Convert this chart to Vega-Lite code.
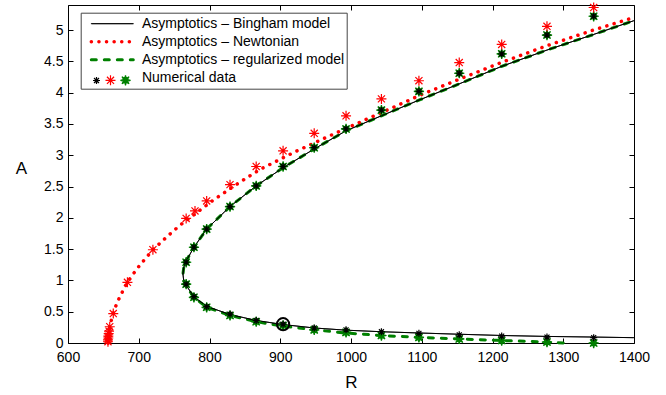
{
"$schema":"https://vega.github.io/schema/vega-lite/v6.json",
"width":566,"height":338,
"autosize":{"type":"none"},
"padding":{"left":68,"top":5,"right":32,"bottom":52},
"background":"white",
"config":{
 "view":{"stroke":null},
 "axis":{"domainColor":"#000","tickColor":"#000","labelColor":"#000","titleColor":"#000","labelFont":"Liberation Sans","titleFont":"Liberation Sans","labelFontSize":14,"titleFontSize":17,"titleFontWeight":"normal","grid":false,"domainWidth":1,"tickWidth":1,"labelFlush":false,"labelOverlap":false},
 "legend":{"labelFont":"Liberation Sans","labelFontSize":14,"labelColor":"#000"}
},
"datasets":{
 "lines":[
  {"series":"Asymptotics – regularized model","i":0,"R":1300,"A":0},
  {"series":"Asymptotics – regularized model","i":1,"R":1277,"A":0.015},
  {"series":"Asymptotics – regularized model","i":2,"R":1213,"A":0.04},
  {"series":"Asymptotics – regularized model","i":3,"R":1153,"A":0.065},
  {"series":"Asymptotics – regularized model","i":4,"R":1096,"A":0.09},
  {"series":"Asymptotics – regularized model","i":5,"R":1043,"A":0.12},
  {"series":"Asymptotics – regularized model","i":6,"R":993,"A":0.16},
  {"series":"Asymptotics – regularized model","i":7,"R":948,"A":0.21},
  {"series":"Asymptotics – regularized model","i":8,"R":904,"A":0.27},
  {"series":"Asymptotics – regularized model","i":9,"R":866,"A":0.34},
  {"series":"Asymptotics – regularized model","i":10,"R":829,"A":0.44},
  {"series":"Asymptotics – regularized model","i":11,"R":796,"A":0.57},
  {"series":"Asymptotics – regularized model","i":12,"R":778,"A":0.73},
  {"series":"Asymptotics – regularized model","i":13,"R":767,"A":0.91},
  {"series":"Asymptotics – regularized model","i":14,"R":763.5,"A":1.0},
  {"series":"Asymptotics – regularized model","i":15,"R":762.5,"A":1.1},
  {"series":"Asymptotics – regularized model","i":16,"R":763.5,"A":1.2},
  {"series":"Asymptotics – regularized model","i":17,"R":766,"A":1.29},
  {"series":"Asymptotics – regularized model","i":18,"R":778,"A":1.53},
  {"series":"Asymptotics – regularized model","i":19,"R":796,"A":1.82},
  {"series":"Asymptotics – regularized model","i":20,"R":829,"A":2.18},
  {"series":"Asymptotics – regularized model","i":21,"R":866,"A":2.51},
  {"series":"Asymptotics – regularized model","i":22,"R":904,"A":2.8},
  {"series":"Asymptotics – regularized model","i":23,"R":948,"A":3.1},
  {"series":"Asymptotics – regularized model","i":24,"R":993,"A":3.39},
  {"series":"Asymptotics – regularized model","i":25,"R":1043,"A":3.63},
  {"series":"Asymptotics – regularized model","i":26,"R":1096,"A":3.88},
  {"series":"Asymptotics – regularized model","i":27,"R":1153,"A":4.14},
  {"series":"Asymptotics – regularized model","i":28,"R":1213,"A":4.42},
  {"series":"Asymptotics – regularized model","i":29,"R":1277,"A":4.68},
  {"series":"Asymptotics – regularized model","i":30,"R":1343,"A":4.93},
  {"series":"Asymptotics – regularized model","i":31,"R":1400,"A":5.15},
  {"series":"Asymptotics – Newtonian","i":0,"R":657,"A":0},
  {"series":"Asymptotics – Newtonian","i":1,"R":657.5,"A":0.1},
  {"series":"Asymptotics – Newtonian","i":2,"R":658.5,"A":0.2},
  {"series":"Asymptotics – Newtonian","i":3,"R":660,"A":0.3},
  {"series":"Asymptotics – Newtonian","i":4,"R":662,"A":0.4},
  {"series":"Asymptotics – Newtonian","i":5,"R":664.5,"A":0.5},
  {"series":"Asymptotics – Newtonian","i":6,"R":670,"A":0.66},
  {"series":"Asymptotics – Newtonian","i":7,"R":677,"A":0.82},
  {"series":"Asymptotics – Newtonian","i":8,"R":684,"A":0.97},
  {"series":"Asymptotics – Newtonian","i":9,"R":692,"A":1.1},
  {"series":"Asymptotics – Newtonian","i":10,"R":702,"A":1.25},
  {"series":"Asymptotics – Newtonian","i":11,"R":720,"A":1.49},
  {"series":"Asymptotics – Newtonian","i":12,"R":740,"A":1.7},
  {"series":"Asymptotics – Newtonian","i":13,"R":757,"A":1.87},
  {"series":"Asymptotics – Newtonian","i":14,"R":777,"A":2.04},
  {"series":"Asymptotics – Newtonian","i":15,"R":805,"A":2.28},
  {"series":"Asymptotics – Newtonian","i":16,"R":843,"A":2.57},
  {"series":"Asymptotics – Newtonian","i":17,"R":871,"A":2.77},
  {"series":"Asymptotics – Newtonian","i":18,"R":920,"A":3.05},
  {"series":"Asymptotics – Newtonian","i":19,"R":970,"A":3.31},
  {"series":"Asymptotics – Newtonian","i":20,"R":1027,"A":3.6},
  {"series":"Asymptotics – Newtonian","i":21,"R":1055,"A":3.74},
  {"series":"Asymptotics – Newtonian","i":22,"R":1100,"A":3.97},
  {"series":"Asymptotics – Newtonian","i":23,"R":1150,"A":4.2},
  {"series":"Asymptotics – Newtonian","i":24,"R":1210,"A":4.47},
  {"series":"Asymptotics – Newtonian","i":25,"R":1277,"A":4.75},
  {"series":"Asymptotics – Newtonian","i":26,"R":1340,"A":4.99},
  {"series":"Asymptotics – Newtonian","i":27,"R":1400,"A":5.2},
  {"series":"Asymptotics – Bingham model","i":0,"R":1400,"A":0.085},
  {"series":"Asymptotics – Bingham model","i":1,"R":1343,"A":0.095},
  {"series":"Asymptotics – Bingham model","i":2,"R":1277,"A":0.105},
  {"series":"Asymptotics – Bingham model","i":3,"R":1213,"A":0.12},
  {"series":"Asymptotics – Bingham model","i":4,"R":1153,"A":0.14},
  {"series":"Asymptotics – Bingham model","i":5,"R":1096,"A":0.16},
  {"series":"Asymptotics – Bingham model","i":6,"R":1043,"A":0.18},
  {"series":"Asymptotics – Bingham model","i":7,"R":993,"A":0.205},
  {"series":"Asymptotics – Bingham model","i":8,"R":948,"A":0.24},
  {"series":"Asymptotics – Bingham model","i":9,"R":904,"A":0.295},
  {"series":"Asymptotics – Bingham model","i":10,"R":866,"A":0.36},
  {"series":"Asymptotics – Bingham model","i":11,"R":829,"A":0.455},
  {"series":"Asymptotics – Bingham model","i":12,"R":796,"A":0.585},
  {"series":"Asymptotics – Bingham model","i":13,"R":778,"A":0.74},
  {"series":"Asymptotics – Bingham model","i":14,"R":767,"A":0.92},
  {"series":"Asymptotics – Bingham model","i":15,"R":763.5,"A":1.0},
  {"series":"Asymptotics – Bingham model","i":16,"R":762.5,"A":1.1},
  {"series":"Asymptotics – Bingham model","i":17,"R":763.5,"A":1.2},
  {"series":"Asymptotics – Bingham model","i":18,"R":766,"A":1.29},
  {"series":"Asymptotics – Bingham model","i":19,"R":778,"A":1.53},
  {"series":"Asymptotics – Bingham model","i":20,"R":796,"A":1.82},
  {"series":"Asymptotics – Bingham model","i":21,"R":829,"A":2.18},
  {"series":"Asymptotics – Bingham model","i":22,"R":866,"A":2.51},
  {"series":"Asymptotics – Bingham model","i":23,"R":904,"A":2.8},
  {"series":"Asymptotics – Bingham model","i":24,"R":948,"A":3.1},
  {"series":"Asymptotics – Bingham model","i":25,"R":993,"A":3.39},
  {"series":"Asymptotics – Bingham model","i":26,"R":1043,"A":3.63},
  {"series":"Asymptotics – Bingham model","i":27,"R":1096,"A":3.88},
  {"series":"Asymptotics – Bingham model","i":28,"R":1153,"A":4.14},
  {"series":"Asymptotics – Bingham model","i":29,"R":1213,"A":4.42},
  {"series":"Asymptotics – Bingham model","i":30,"R":1277,"A":4.68},
  {"series":"Asymptotics – Bingham model","i":31,"R":1343,"A":4.93},
  {"series":"Asymptotics – Bingham model","i":32,"R":1400,"A":5.15}
 ],
 "stars":[
  {"set":"g","R":767,"A":1.29},{"set":"g","R":778,"A":1.53},{"set":"g","R":796,"A":1.82},{"set":"g","R":829,"A":2.18},{"set":"g","R":866,"A":2.51},{"set":"g","R":904,"A":2.82},{"set":"g","R":948,"A":3.12},{"set":"g","R":993,"A":3.42},{"set":"g","R":1043,"A":3.72},{"set":"g","R":1096,"A":4.02},{"set":"g","R":1153,"A":4.31},{"set":"g","R":1213,"A":4.62},{"set":"g","R":1277,"A":4.92},{"set":"g","R":1343,"A":5.22},
  {"set":"g","R":767,"A":0.94},{"set":"g","R":778,"A":0.73},{"set":"g","R":796,"A":0.57},{"set":"g","R":829,"A":0.44},{"set":"g","R":866,"A":0.34},{"set":"g","R":904,"A":0.28},{"set":"g","R":948,"A":0.21},{"set":"g","R":993,"A":0.17},{"set":"g","R":1043,"A":0.12},{"set":"g","R":1096,"A":0.09},{"set":"g","R":1153,"A":0.065},{"set":"g","R":1213,"A":0.04},{"set":"g","R":1277,"A":0.015},{"set":"g","R":1343,"A":0.0},
  {"set":"k","R":767,"A":1.29},{"set":"k","R":778,"A":1.53},{"set":"k","R":796,"A":1.82},{"set":"k","R":829,"A":2.18},{"set":"k","R":866,"A":2.51},{"set":"k","R":904,"A":2.82},{"set":"k","R":948,"A":3.12},{"set":"k","R":993,"A":3.42},{"set":"k","R":1043,"A":3.72},{"set":"k","R":1096,"A":4.02},{"set":"k","R":1153,"A":4.31},{"set":"k","R":1213,"A":4.62},{"set":"k","R":1277,"A":4.92},{"set":"k","R":1343,"A":5.22},
  {"set":"k","R":767,"A":0.94},{"set":"k","R":778,"A":0.74},{"set":"k","R":796,"A":0.58},{"set":"k","R":829,"A":0.46},{"set":"k","R":866,"A":0.36},{"set":"k","R":904,"A":0.30},{"set":"k","R":948,"A":0.24},{"set":"k","R":993,"A":0.21},{"set":"k","R":1043,"A":0.18},{"set":"k","R":1096,"A":0.155},{"set":"k","R":1153,"A":0.13},{"set":"k","R":1213,"A":0.11},{"set":"k","R":1277,"A":0.095},{"set":"k","R":1343,"A":0.085},
  {"set":"r","R":656.5,"A":0.02},{"set":"r","R":656.5,"A":0.05},{"set":"r","R":657,"A":0.08},{"set":"r","R":657,"A":0.11},{"set":"r","R":657.5,"A":0.15},{"set":"r","R":658,"A":0.19},{"set":"r","R":659,"A":0.26},{"set":"r","R":664,"A":0.47},{"set":"r","R":684,"A":0.97},{"set":"r","R":720,"A":1.49},{"set":"r","R":767,"A":1.99},{"set":"r","R":779.5,"A":2.11},{"set":"r","R":796,"A":2.27},{"set":"r","R":829,"A":2.53},{"set":"r","R":866,"A":2.82},{"set":"r","R":904,"A":3.07},{"set":"r","R":948,"A":3.35},{"set":"r","R":993,"A":3.63},{"set":"r","R":1043,"A":3.9},{"set":"r","R":1096,"A":4.19},{"set":"r","R":1153,"A":4.48},{"set":"r","R":1213,"A":4.77},{"set":"r","R":1277,"A":5.06},{"set":"r","R":1343,"A":5.36}
 ],
 "marker":[{"R":904,"A":0.3}]
},
"layer":[
 {
  "data":{"name":"lines"},
  "mark":{"type":"line","strokeCap":"round","strokeJoin":"round"},
  "encoding":{
   "x":{"field":"R","type":"quantitative","scale":{"domain":[600,1400],"nice":false,"zero":false},
        "axis":{"orient":"bottom","values":[600,700,800,900,1000,1100,1200,1300,1400],"format":"d","title":"R","tickSize":-5,"labelPadding":12,"titleY":44,"titleBaseline":"alphabetic"}},
   "y":{"field":"A","type":"quantitative","scale":{"domain":[0,5.4],"nice":false,"zero":false},
        "axis":{"orient":"left","values":[0,0.5,1,1.5,2,2.5,3,3.5,4,4.5,5],"format":"~g","title":"A","tickSize":-5,"labelPadding":10,"titleAngle":0,"titleX":-47,"titleY":163,"titleAlign":"center","titleBaseline":"middle"}},
   "order":{"field":"i","type":"quantitative"},
   "color":{"field":"series","type":"nominal",
     "scale":{"domain":["Asymptotics – Bingham model","Asymptotics – Newtonian","Asymptotics – regularized model","Numerical data"],"range":["#000000","#ff0000","#008000","#ffffff"]},
     "legend":{"orient":"none","legendX":12.7,"legendY":7.7,"title":null,"padding":2,"strokeColor":"#444444","fillColor":"#ffffff","symbolType":"stroke","symbolSize":1764,"clipHeight":18,"symbolOffset":6.6,"labelOffset":6.6,"rowPadding":0,"labelLimit":400,"encode":{"symbols":{"update":{"strokeCap":{"value":"round"}}}}}},
   "strokeDash":{"field":"series","type":"nominal",
     "scale":{"domain":["Asymptotics – Bingham model","Asymptotics – Newtonian","Asymptotics – regularized model","Numerical data"],"range":[[1,0],[0.1,7.5],[5,8],[1,0]]},
     "legend":{"orient":"none","legendX":12.7,"legendY":7.7,"title":null,"padding":2,"strokeColor":"#444444","fillColor":"#ffffff","symbolType":"stroke","symbolSize":1764,"clipHeight":18,"symbolOffset":6.6,"labelOffset":6.6,"rowPadding":0,"labelLimit":400}},
   "strokeWidth":{"field":"series","type":"nominal",
     "scale":{"type":"ordinal","domain":["Asymptotics – Bingham model","Asymptotics – Newtonian","Asymptotics – regularized model","Numerical data"],"range":[1,3.5,3,0]},
     "legend":{"orient":"none","legendX":12.7,"legendY":7.7,"title":null,"padding":2,"strokeColor":"#444444","fillColor":"#ffffff","symbolType":"stroke","symbolSize":1764,"clipHeight":18,"symbolOffset":6.6,"labelOffset":6.6,"rowPadding":0,"labelLimit":400}}
  }
 },
 {
  "data":{"name":"stars"},
  "mark":{"type":"point","filled":true,"opacity":1,"strokeWidth":1.2},
  "encoding":{
   "x":{"field":"R","type":"quantitative","axis":null},
   "y":{"field":"A","type":"quantitative","axis":null},
   "shape":{"field":"set","type":"nominal","scale":{"domain":["k","r","g"],"range":["M0,-1L0,1M-1,0L1,0M-0.71,-0.71L0.71,0.71M-0.71,0.71L0.71,-0.71","M0,-1L0,1M-1,0L1,0M-0.71,-0.71L0.71,0.71M-0.71,0.71L0.71,-0.71","M0,-1L0.153,-0.37L0.707,-0.707L0.37,-0.153L1,0L0.37,0.153L0.707,0.707L0.153,0.37L0,1L-0.153,0.37L-0.707,0.707L-0.37,0.153L-1,0L-0.37,-0.153L-0.707,-0.707L-0.153,-0.37Z"]},
     "legend":{"orient":"none","legendX":21.5,"legendY":68,"title":null,"padding":0,"labelExpr":"''","labelOffset":0,"symbolOffset":0,"direction":"horizontal","columns":3,"columnPadding":-2,"rowPadding":0,"symbolStrokeWidth":1.2}},
   "stroke":{"field":"set","type":"nominal","scale":{"domain":["k","r","g"],"range":["#000000","#ff0000","#008000"]},
     "legend":{"orient":"none","legendX":21.5,"legendY":68,"title":null,"padding":0,"labelExpr":"''","labelOffset":0,"symbolOffset":0,"direction":"horizontal","columns":3,"columnPadding":-2,"rowPadding":0,"symbolStrokeWidth":1.2}},
   "fill":{"field":"set","type":"nominal","scale":{"domain":["k","r","g"],"range":["transparent","transparent","#008000"]},
     "legend":{"orient":"none","legendX":21.5,"legendY":68,"title":null,"padding":0,"labelExpr":"''","labelOffset":0,"symbolOffset":0,"direction":"horizontal","columns":3,"columnPadding":-2,"rowPadding":0,"symbolStrokeWidth":1.2}},
   "size":{"field":"set","type":"nominal","scale":{"type":"ordinal","domain":["k","r","g"],"range":[49,100,100]},
     "legend":{"orient":"none","legendX":21.5,"legendY":68,"title":null,"padding":0,"labelExpr":"''","labelOffset":0,"symbolOffset":0,"direction":"horizontal","columns":3,"columnPadding":-2,"rowPadding":0,"symbolStrokeWidth":1.2}}
  }
 },
 {
  "data":{"name":"marker"},
  "mark":{"type":"point","shape":"circle","filled":false,"stroke":"#000000","strokeWidth":2,"size":150,"opacity":1},
  "encoding":{
   "x":{"field":"R","type":"quantitative","axis":{"orient":"top","values":[600,700,800,900,1000,1100,1200,1300,1400],"labels":false,"title":null,"tickSize":-5}},
   "y":{"field":"A","type":"quantitative","axis":{"orient":"right","values":[0,0.5,1,1.5,2,2.5,3,3.5,4,4.5,5],"labels":false,"title":null,"tickSize":-5}}
  }
 }
],
"resolve":{"axis":{"x":"independent","y":"independent"}}
}
